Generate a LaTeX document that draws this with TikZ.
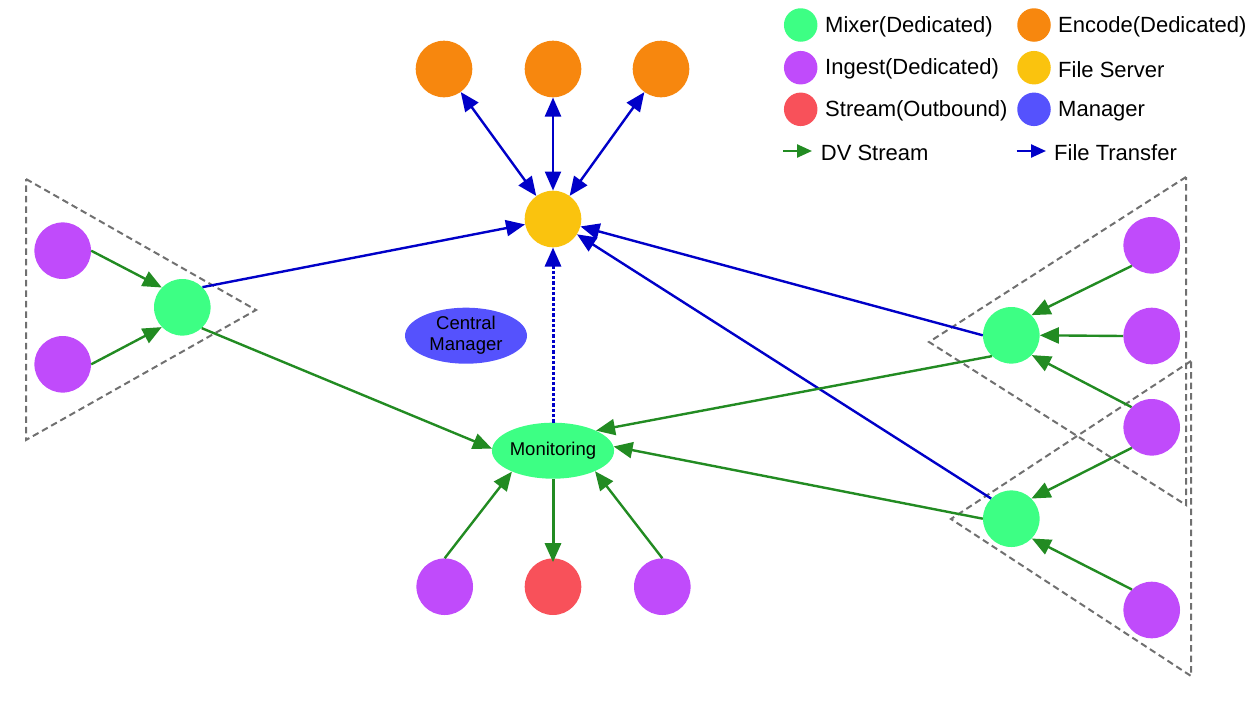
\documentclass[tikz,border=0pt]{standalone}
\usepackage{fontspec}
\setmainfont{Liberation Sans}
\usetikzlibrary{arrows.meta,shapes.geometric}

\definecolor{mixc}{HTML}{3DFF84}
\definecolor{ingc}{HTML}{C04BFB}
\definecolor{strc}{HTML}{F8515A}
\definecolor{encc}{HTML}{F7870E}
\definecolor{fsc}{HTML}{FAC30E}
\definecolor{mgrc}{HTML}{5552FD}
\definecolor{dvgreen}{HTML}{228B22}
\definecolor{ftblue}{HTML}{0000C8}
\definecolor{groupgray}{HTML}{707070}

\tikzset{
  host/.style={circle, minimum size=56.6pt, inner sep=0pt, draw=none},
  mixer/.style={host, fill=mixc},
  ingest/.style={host, fill=ingc},
  outstream/.style={host, fill=strc},
  encoder/.style={host, fill=encc},
  fserver/.style={host, fill=fsc},
  legdot/.style={circle, minimum size=33.5pt, inner sep=0pt, draw=none},
  legtext/.style={anchor=west, inner sep=0pt, font=\fontsize{22}{25}\selectfont},
  oval/.style={ellipse, minimum width=119pt, minimum height=56pt, inner sep=0pt, draw=none,
    align=center, font=\fontsize{18.5}{21}\selectfont},
  bigtip/.tip={Triangle[length=19pt,width=16pt]},
  smalltip/.tip={Triangle[length=15pt,width=13pt]},
  dv/.style={draw=dvgreen, line width=2.4pt, -bigtip},
  ft/.style={draw=ftblue, line width=2.4pt, -bigtip},
  ftboth/.style={draw=ftblue, line width=2.4pt, bigtip-bigtip},
  legdv/.style={draw=dvgreen, line width=2.4pt, -smalltip},
  legft/.style={draw=ftblue, line width=2.4pt, -smalltip},
  group/.style={draw=groupgray, line width=2pt, dash pattern=on 6.5pt off 4pt},
}

\begin{document}
\begin{tikzpicture}[x=1pt,y=-1pt]
\useasboundingbox (0,0) rectangle (1257,707);

% mixer groups
\draw[group] (26,179) -- (256,310) -- (26,440) -- cycle;
\draw[group] (1186,177) -- (929,342) -- (1186,505) -- cycle;
\draw[group] (1191,361) -- (951,519) -- (1191,676) -- cycle;

% encoders and file server
\node[encoder] (en1) at (444,69) {};
\node[encoder] (en2) at (553,69) {};
\node[encoder] (en3) at (661,69) {};
\node[fserver] (fs) at (553,219) {};

% left group
\node[ingest] (li1) at (62.7,250.7) {};
\node[ingest] (li2) at (62.7,364.3) {};
\node[mixer] (lm) at (182.3,307.3) {};

% right groups
\node[ingest] (ri1) at (1151.7,245.3) {};
\node[ingest] (ri2) at (1151.7,336) {};
\node[ingest] (ri3) at (1151.7,427.3) {};
\node[ingest] (ri4) at (1151.7,610) {};
\node[mixer] (rm1) at (1011.3,335.3) {};
\node[mixer] (rm2) at (1011.3,518.7) {};

% managers
\node[oval, fill=mgrc, minimum width=122pt] (cm) at (466,335.7) {Central\\Manager};
\node[oval, fill=mixc] (mon) at (553,450.7) {Monitoring};

% bottom row
\node[ingest] (bi1) at (444.7,586.7) {};
\node[outstream] (st) at (553,586.7) {};
\node[ingest] (bi2) at (662.3,586.7) {};

% file transfers
\draw[ftboth] (en1) -- (fs);
\draw[ftboth] (en2) -- (fs);
\draw[ftboth] (en3) -- (fs);
\draw[ft] (lm.45) -- (fs);
\draw[ft] (rm1.180) -- (fs);
\draw[ft] (rm2.135) -- (fs);
\draw[draw=ftblue, line width=3pt, dash pattern=on 3.3pt off 2pt, -bigtip] (mon.north) -- (fs.south);

% DV streams
\draw[dv] (li1.east) -- (lm.136);
\draw[dv] (li2.east) -- (lm.224);
\draw[dv] (lm.-47) -- (mon.178);
\draw[dv] (ri1.226) -- (rm1.45);
\draw[dv] (ri2.west) -- (rm1.east);
\draw[dv] (ri3.135) -- (rm1.-44);
\draw[dv] (ri3.226) -- (rm2.45);
\draw[dv] (ri4.134) -- (rm2.-44);
\draw[dv] (rm1.227) -- (mon.25);
\draw[dv] (rm2.180) -- (mon.4);
\draw[dv] (bi1.north) -- (mon.207);
\draw[dv] (bi2.north) -- (mon.334);
\draw[dv, line width=3pt, shorten >=-4pt] (mon.south) -- (st.north);

% legend
\node[legdot, fill=mixc] (k1) at (800.7,25) {};
\node[legdot, fill=ingc] (k2) at (800.7,67.7) {};
\node[legdot, fill=strc] (k3) at (800.7,109.3) {};
\node[legdot, fill=encc] (k4) at (1034,25) {};
\node[legdot, fill=fsc] (k5) at (1034,67.7) {};
\node[legdot, fill=mgrc] (k6) at (1034,109.3) {};
\node[legtext] (t1) at (825,26.5) {Mixer(Dedicated)};
\node[legtext] (t2) at (825,69.2) {Ingest(Dedicated)};
\node[legtext] (t3) at (825,110.8) {Stream(Outbound)};
\node[legtext] (t4) at (1058,26.5) {Encode(Dedicated)};
\node[legtext] (t5) at (1058,69.2) {File Server};
\node[legtext] (t6) at (1058,110.8) {Manager};
\coordinate (dva) at (783,151);
\coordinate (dvb) at (812,151);
\coordinate (fta) at (1016.7,151);
\coordinate (ftb) at (1046,151);
\draw[legdv] (dva) -- (dvb);
\draw[legft] (fta) -- (ftb);
\node[legtext] (t7) at (820.7,152.5) {DV Stream};
\node[legtext] (t8) at (1054,152.5) {File Transfer};
\end{tikzpicture}
\end{document}
